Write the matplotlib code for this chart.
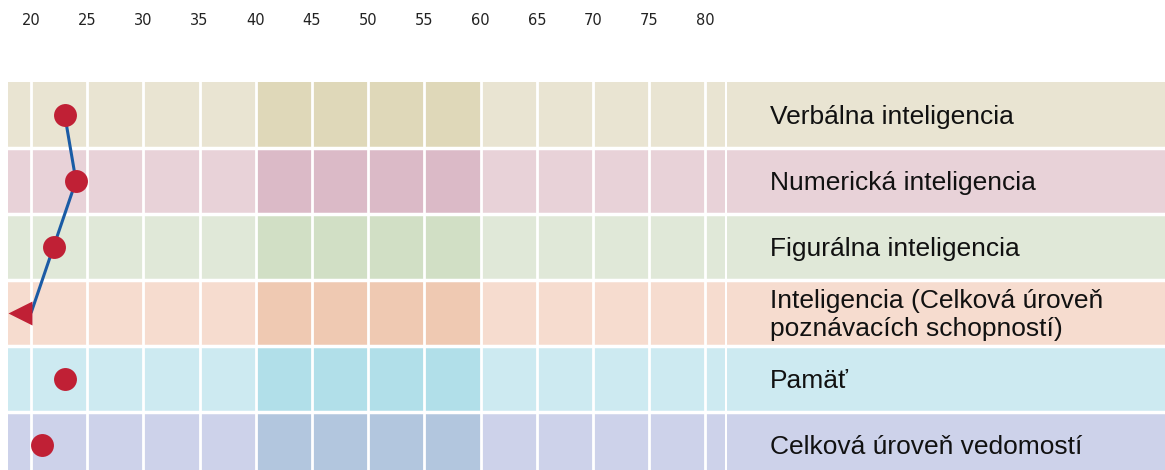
import matplotlib.pyplot as plt
from matplotlib.patches import Rectangle

# Data
categories = ['Verbálna inteligencia', 'Numerická inteligencia', 'Figurálna inteligencia',
              'Inteligencia (Celková úroveň\npoznávacích schopností)', 'Pamäť',
              'Celková úroveň vedomostí']
scores = [23, 24, 22, 20, 23, 21]
below_scale = [False, False, False, True, False, False]
ticks = list(range(20, 85, 5))

light = ['#E9E4D2', '#E8D2D8', '#E0E8D8', '#F6DCCF', '#CDEAF1', '#CDD2EA']
dark = ['#DFD8B9', '#DBBAC7', '#D1DFC5', '#EFC9B2', '#B1DFE9', '#B2C6DE']

W, H = 1165, 470
fig = plt.figure(figsize=(W / 100, H / 100), dpi=100)

top_px, row_px = 82, 66
n = len(categories)
bottom_px = top_px + n * row_px
ax = fig.add_axes([8 / W, 1 - bottom_px / H, (725 - 8) / W, n * row_px / H])
xmin, xmax = 17.95, 81.75
ax.set_xlim(xmin, xmax)
ax.set_ylim(n, 0)

for i in range(n):
    ax.add_patch(Rectangle((xmin, i), xmax - xmin, 1, color=light[i], lw=0, zorder=0))
    ax.add_patch(Rectangle((40, i), 20, 1, color=dark[i], lw=0, zorder=0))
for t in ticks:
    ax.axvline(t, color='white', lw=2, zorder=1)
for i in range(1, n):
    ax.axhline(i, color='white', lw=2.5, zorder=1)

# connected line for the intelligence rows
ys = [i + 0.5 for i in range(4)]
ax.plot(scores[:4], ys, color='#1A5BA5', lw=2.2, zorder=2, solid_capstyle='butt')
for i, (s, b) in enumerate(zip(scores, below_scale)):
    if b:
        ax.plot(s - 1.0, i + 0.5, marker='<', ms=17, color='#C02035', mec='none', zorder=3)
    else:
        ax.plot(s, i + 0.5, marker='o', ms=16.5, color='#C02035', mec='none', zorder=3)

ax.xaxis.tick_top()
ax.set_xticks(ticks)
ax.set_xticklabels([str(t) for t in ticks], fontsize=10.5, color='#222222')
ax.tick_params(axis='x', length=0, pad=39)
ax.set_yticks([])
for sp in ax.spines.values():
    sp.set_visible(False)

# label panel
lx = fig.add_axes([727 / W, 1 - bottom_px / H, (W - 727) / W, n * row_px / H])
lx.set_xlim(0, 1)
lx.set_ylim(n, 0)
for i in range(n):
    lx.add_patch(Rectangle((0, i), 1, 1, color=light[i], lw=0, zorder=0))
    lx.text(0.098, i + 0.53, categories[i], fontsize=19, family='Liberation Sans',
            va='center', ha='left', color='#111111', linespacing=1.2)
for i in range(1, n):
    lx.axhline(i, color='white', lw=2.5, zorder=1)
lx.axis('off')

fig.savefig('out.png', dpi=100)
